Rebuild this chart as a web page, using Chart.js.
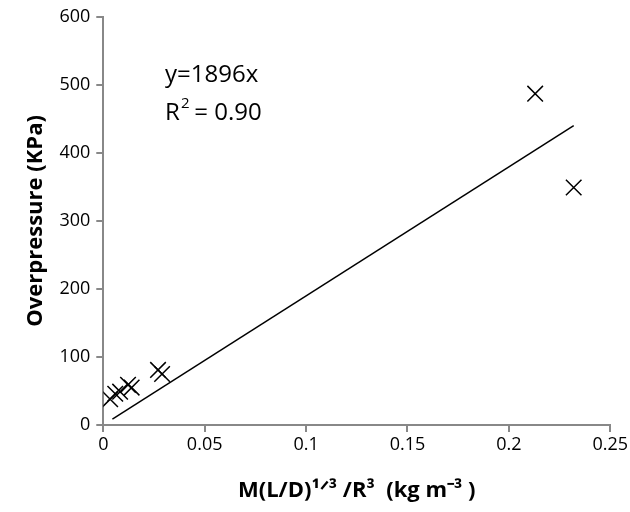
<!DOCTYPE html>
<html>
<head>
<meta charset="utf-8">
<script src="https://cdn.jsdelivr.net/npm/chart.js@4"></script>
<style>
body { margin: 0; background: #fff; }
#wrap { width: 630px; height: 512px; }
</style>
</head>
<body>
<div id="wrap"><canvas id="c"></canvas></div>
<script>
const xs = [0.0034, 0.0059, 0.0083, 0.0122, 0.0140, 0.0270, 0.0290, 0.2130, 0.2320];
const ys = [38, 46, 49, 59, 55, 81, 75, 487, 349];
const slope = 1896;
const fitX = [0.0045, 0.2320];

const annot = {
  id: "annot",
  afterDraw(chart) {
    const c = chart.ctx;
    c.save();
    c.fillStyle = "#000";
    c.font = "24px 'Open Sans', sans-serif";
    c.fillText("y=1896x", 165, 82);
    c.fillText("R", 165, 120);
    c.font = "15px 'Open Sans', sans-serif";
    c.fillText("2", 181, 108);
    c.font = "24px 'Open Sans', sans-serif";
    c.fillText(" = 0.90", 188, 120);
    c.restore();
  }
};

const tickFont = { size: 18, family: "'Open Sans', sans-serif" };
const axisGrid = { drawOnChartArea: false, drawTicks: true, tickLength: 7, color: "#888", lineWidth: 2 };

new Chart(document.getElementById("c"), {
  type: "scatter",
  data: {
    datasets: [
      {
        data: xs.map((x, i) => ({ x: x, y: ys[i] })),
        pointStyle: "crossRot",
        pointRadius: 11,
        borderColor: "#000",
        borderWidth: 1.5,
        showLine: false
      },
      {
        data: fitX.map(x => ({ x: x, y: slope * x })),
        showLine: true,
        pointRadius: 0,
        borderColor: "#000",
        borderWidth: 1.5
      }
    ]
  },
  options: {
    responsive: true,
    maintainAspectRatio: false,
    animation: false,
    layout: { padding: { top: 8, right: 12, left: 19, bottom: 4 } },
    plugins: { legend: { display: false }, tooltip: { enabled: false } },
    scales: {
      x: {
        min: 0, max: 0.25,
        ticks: { stepSize: 0.05, color: "#000", font: tickFont, padding: 2,
                 callback: v => String(Number(v.toFixed(2))) },
        grid: axisGrid,
        border: { color: "#888", width: 2 },
        title: { display: true, text: "M(L/D)¹ᐟ³ /R³  (kg m⁻³ )", color: "#000", padding: { top: 20 },
                 font: { size: 22, weight: "bold", family: "'Open Sans', sans-serif" } }
      },
      y: {
        min: 0, max: 600,
        ticks: { stepSize: 100, color: "#000", font: tickFont, padding: 6 },
        grid: axisGrid,
        border: { color: "#888", width: 2 },
        title: { display: true, text: "Overpressure (KPa)", color: "#000",
                 font: { size: 22, weight: "bold", family: "'Open Sans', sans-serif" } }
      }
    }
  },
  plugins: [annot]
});
</script>
</body>
</html>
